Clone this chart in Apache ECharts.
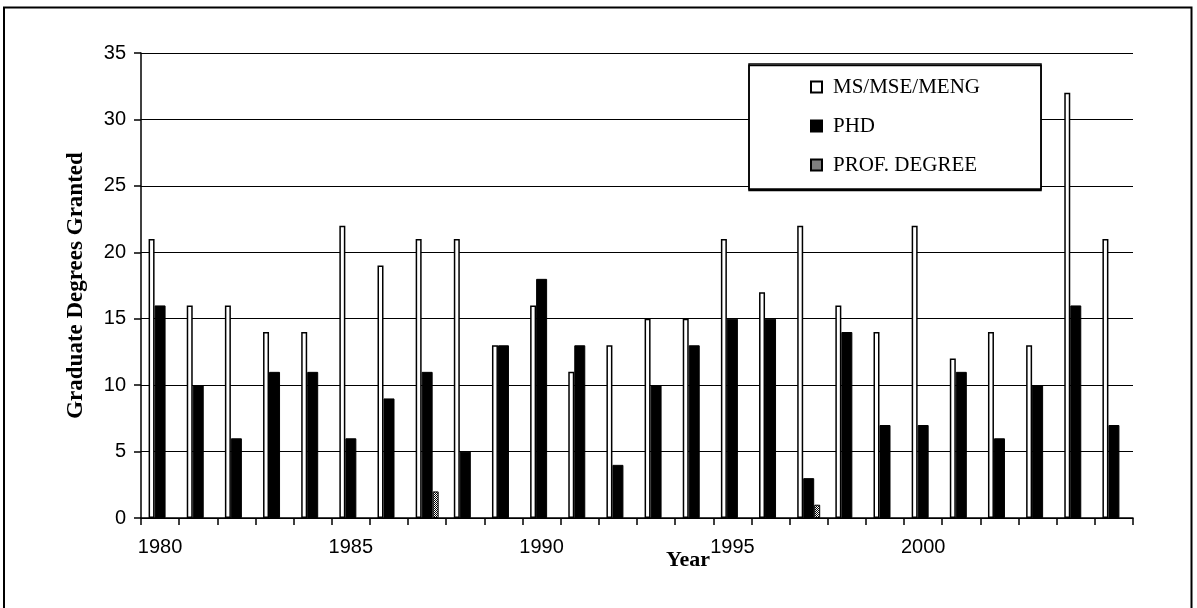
<!DOCTYPE html>
<html>
<head>
<meta charset="utf-8">
<script src="https://cdn.jsdelivr.net/npm/echarts@6/dist/echarts.min.js"></script>
<style>
html,body{margin:0;padding:0;background:#fff;}
#chart{width:1197px;height:608px;}
</style>
</head>
<body>
<div id="chart"></div>
<script>
const years = ['1980','1981','1982','1983','1984','1985','1986','1987','1988','1989','1990','1991','1992','1993','1994','1995','1996','1997','1998','1999','2000','2001','2002','2003','2004','2005'];
const msValues   = [21,16,16,14,14,22,19,21,21,13,16,11,13,15,15,21,17,22,16,14,22,12,14,13,32,21];
const phdValues  = [16,10,6,11,11,6,9,11,5,13,18,13,4,10,13,15,15,3,14,7,7,11,6,10,16,7];
const profValues = [null,null,null,null,null,null,null,2,null,null,null,null,null,null,null,null,null,1,null,null,null,null,null,null,null,null];
const seriesNames = ['MS/MSE/MENG','PHD','PROF. DEGREE'];
const labeledYears = ['1980','1985','1990','1995','2000'];
const yTicks = {min:0, max:35, interval:5};

// checkered pattern for the professional degree bars
const pc = document.createElement('canvas');
pc.width = 2; pc.height = 2;
const pctx = pc.getContext('2d');
pctx.fillStyle = '#fff'; pctx.fillRect(0,0,2,2);
pctx.fillStyle = '#000'; pctx.fillRect(0,0,1,1); pctx.fillRect(1,1,1,1);
const pattern = {image: pc, repeat: 'repeat'};

const numFont = "'Liberation Sans','Arial',sans-serif";
const serifFont = "'Liberation Serif','DejaVu Serif',serif";

const chart = echarts.init(document.getElementById('chart'), null, {renderer:'canvas'});
chart.setOption({
  animation:false,
  backgroundColor:'#fff',
  graphic:[{
    type:'rect', silent:true, z:-10,
    shape:{x:4, y:7.5, width:1187.5, height:610},
    style:{fill:'none', stroke:'#000', lineWidth:2}
  }],
  grid:{left:141, right:64, top:53, bottom:90, containLabel:false},
  legend:{
    orient:'vertical',
    left:749, top:64,
    padding:[12,61,13,61],
    backgroundColor:'#fff',
    borderColor:'#000', borderWidth:1.5,
    shadowColor:'#000', shadowOffsetY:1.5, shadowOffsetX:0, shadowBlur:0,
    itemWidth:11, itemHeight:11, itemGap:17,
    icon:'rect',
    textStyle:{fontFamily:serifFont, fontSize:21, color:'#000', lineHeight:22, padding:[0,0,0,6]},
    data:seriesNames
  },
  xAxis:{
    type:'category',
    data:years,
    name:'Year',
    nameLocation:'middle',
    nameGap:31,
    nameMoveOverlap:false,
    nameTextStyle:{fontFamily:serifFont, fontWeight:'bold', fontSize:22, color:'#000', padding:[0,0,0,102]},
    axisLine:{lineStyle:{color:'#000', width:1.5}},
    axisTick:{show:true, interval:0, length:7, alignWithLabel:false, lineStyle:{color:'#000', width:1.5}},
    axisLabel:{
      interval:function(idx, val){ return labeledYears.indexOf(val) >= 0; },
      margin:19, fontFamily:numFont, fontSize:20, color:'#000'
    },
    splitLine:{show:false}
  },
  yAxis:{
    type:'value',
    min:yTicks.min, max:yTicks.max, interval:yTicks.interval,
    name:'Graduate Degrees Granted',
    nameLocation:'middle',
    nameGap:53,
    nameMoveOverlap:false,
    nameTextStyle:{fontFamily:serifFont, fontWeight:'bold', fontSize:23, color:'#000'},
    axisLine:{show:true, lineStyle:{color:'#000', width:1.5}},
    axisTick:{show:true, length:7, lineStyle:{color:'#000', width:1.5}},
    axisLabel:{margin:15, fontFamily:numFont, fontSize:20, color:'#000'},
    splitLine:{show:true, lineStyle:{color:'#000', width:1.2}}
  },
  series:[
    {name:seriesNames[0], type:'bar', data:msValues, barWidth:6, barGap:'0%',
     itemStyle:{color:'#fff', borderColor:'#000', borderWidth:1.5}},
    {name:seriesNames[1], type:'bar', data:phdValues, barWidth:11, barGap:'0%',
     itemStyle:{color:'#000', borderColor:'#000', borderWidth:1}},
    {name:seriesNames[2], type:'bar', data:profValues, barWidth:6, barGap:'0%',
     itemStyle:{color:pattern, borderColor:'#000', borderWidth:1}}
  ]
});
</script>
</body>
</html>
